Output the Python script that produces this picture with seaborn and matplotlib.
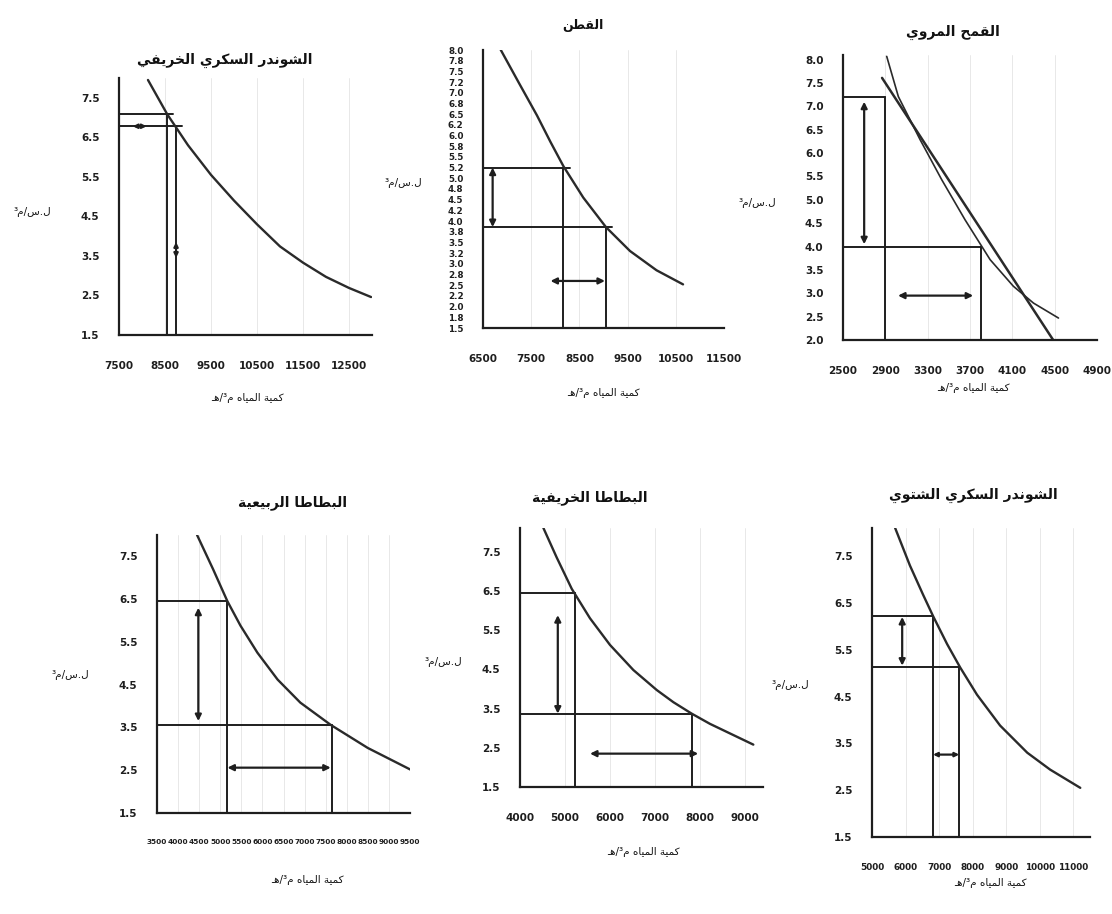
import matplotlib
matplotlib.use("Agg")
import matplotlib.pyplot as plt
import numpy as np
import pandas as pd
import seaborn as sns

# ---------------- data ----------------
# top-left: autumn sugar beet
tl_q = [8130, 8550, 9000, 9500, 10000, 10500, 11000, 11500, 12000, 12500, 12980]
tl_p = [7.95, 7.08, 6.30, 5.55, 4.90, 4.30, 3.74, 3.33, 2.97, 2.69, 2.46]
tl_guide_p = [7.08, 6.78]
tl_guide_q = [8550, 8740]
tl_xticks = [7500, 8500, 9500, 10500, 11500, 12500]

# top-middle: cotton
tm_q = [6860, 7250, 7620, 7900, 8170, 8580, 9050, 9550, 10100, 10650]
tm_p = [8.02, 7.22, 6.47, 5.85, 5.28, 4.55, 3.86, 3.30, 2.85, 2.52]
tm_guide_p = [5.25, 3.86]
tm_guide_q = [8170, 9050]
tm_xticks = [6500, 7500, 8500, 9500, 10500, 11500]

# top-right: irrigated wheat (curve + straight line)
tr_q = [2913, 3023, 3228, 3433, 3654, 3890, 4110, 4300, 4536]
tr_p = [8.07, 7.21, 6.29, 5.43, 4.57, 3.72, 3.15, 2.79, 2.47]
tr_lin_q = [2869, 4486]
tr_lin_p = [7.61, 2.00]
tr_guide_p = [7.20, 4.00]
tr_guide_q = [2900, 3800]
tr_xticks = [2500, 2900, 3300, 3700, 4100, 4500, 4900]

# bottom-left: spring potato
bl_q = [4450, 4830, 5170, 5480, 5880, 6360, 6900, 7620, 8500, 9520]
bl_p = [8.00, 7.20, 6.45, 5.88, 5.25, 4.62, 4.08, 3.56, 3.02, 2.51]
bl_guide_p = [6.45, 3.56]
bl_guide_q = [5170, 7650]
bl_xticks = [3500, 4000, 4500, 5000, 5500, 6000, 6500, 7000, 7500, 8000, 8500, 9000, 9500]

# bottom-middle: autumn potato
bm_q = [4520, 4815, 5150, 5555, 6000, 6520, 7040, 7410, 7815, 8220, 9185]
bm_p = [8.10, 7.35, 6.55, 5.80, 5.12, 4.48, 3.97, 3.66, 3.37, 3.11, 2.58]
bm_guide_p = [6.45, 3.37]
bm_guide_q = [5220, 7815]
bm_xticks = [4000, 5000, 6000, 7000, 8000, 9000]

# bottom-right: winter sugar beet
br_q = [5690, 6130, 6520, 6820, 7240, 7630, 8130, 8820, 9630, 10310, 11210]
br_p = [8.10, 7.30, 6.68, 6.22, 5.62, 5.12, 4.54, 3.88, 3.30, 2.94, 2.55]
br_guide_p = [6.22, 5.14]
br_guide_q = [6820, 7600]
br_xticks = [5000, 6000, 7000, 8000, 9000, 10000, 11000]

titles = ["الشوندر السكري الخريفي", "القطن", "القمح المروي",
          "البطاطا الربيعية", "البطاطا الخريفية", "الشوندر السكري الشتوي"]
xlabel_txt = "كمية المياه م³/هـ"
ylabel_txt = "ل.س/م³"

# ---------------- minimal Arabic shaping ----------------
DUAL = {'ب': 0xFE8F, 'ت': 0xFE95, 'ث': 0xFE99, 'ج': 0xFE9D, 'ح': 0xFEA1, 'خ': 0xFEA5,
        'س': 0xFEB1, 'ش': 0xFEB5, 'ص': 0xFEB9, 'ض': 0xFEBD, 'ط': 0xFEC1, 'ظ': 0xFEC5,
        'ع': 0xFEC9, 'غ': 0xFECD, 'ف': 0xFED1, 'ق': 0xFED5, 'ك': 0xFED9, 'ل': 0xFEDD,
        'م': 0xFEE1, 'ن': 0xFEE5, 'ه': 0xFEE9, 'ي': 0xFEF1, 'ئ': 0xFE89}
RIGHT = {'ا': 0xFE8D, 'أ': 0xFE83, 'إ': 0xFE87, 'آ': 0xFE81, 'ة': 0xFE93, 'د': 0xFEA9,
         'ذ': 0xFEAB, 'ر': 0xFEAD, 'ز': 0xFEAF, 'و': 0xFEED, 'ؤ': 0xFE85, 'ى': 0xFEEF}
LAM_ALEF = {'ا': 0xFEFB, 'أ': 0xFEF7, 'إ': 0xFEF9, 'آ': 0xFEF5}
TATWEEL = 'ـ'


def shape_ar(s):
    out = []
    n = len(s)
    i = 0
    while i < n:
        c = s[i]
        prev = s[i - 1] if i > 0 else ''
        cp = (prev in DUAL) or prev == TATWEEL
        if c == 'ل' and i + 1 < n and s[i + 1] in LAM_ALEF:
            base = LAM_ALEF[s[i + 1]]
            out.append(chr(base + 1 if cp else base))
            i += 2
            continue
        if c in DUAL:
            nxt = s[i + 1] if i + 1 < n else ''
            cn = nxt in DUAL or nxt in RIGHT or nxt == TATWEEL
            base = DUAL[c]
            if cp and cn:
                out.append(chr(base + 3))
            elif cp:
                out.append(chr(base + 1))
            elif cn:
                out.append(chr(base + 2))
            else:
                out.append(chr(base))
        elif c in RIGHT:
            base = RIGHT[c]
            out.append(chr(base + 1 if cp else base))
        else:
            out.append(c)
        i += 1
    return ''.join(reversed(out))


# ---------------- figure ----------------
sns.set_theme(style="white")
plt.rcParams['font.family'] = ['DejaVu Sans']

W, H = 1112, 914
fig = plt.figure(figsize=(W / 100, H / 100), dpi=100)
LC = '#1e1e1e'


def px(x, y):
    return x / W, 1 - y / H


def add_ax(left, right, top, bottom):
    return fig.add_axes([left / W, 1 - bottom / H, (right - left) / W, (bottom - top) / H])


def curve(ax, q, p, lw=1.7):
    df = pd.DataFrame({'q': q, 'p': p})
    sns.lineplot(data=df, x='q', y='p', ax=ax, color='#2a2a2a', lw=lw,
                 sort=False, estimator=None, legend=False)


def style_ax(ax, xlim, ylim, xticks, yticks, ylabsize=7.5, xlabsize=7.5):
    ax.set_xlim(*xlim)
    ax.set_ylim(*ylim)
    ax.set_xticks(xticks)
    ax.set_xticklabels([str(v) for v in xticks])
    ax.set_yticks(yticks)
    ax.set_yticklabels(['%.1f' % v for v in yticks])
    for s in ['top', 'right']:
        ax.spines[s].set_visible(False)
    for s in ['left', 'bottom']:
        ax.spines[s].set_color(LC)
        ax.spines[s].set_linewidth(1.6)
    ax.tick_params(axis='x', direction='out', length=3, width=0.8, colors=LC,
                   labelsize=xlabsize, pad=16)
    ax.tick_params(axis='y', direction='out', length=3, width=0.8, colors=LC,
                   labelsize=ylabsize, pad=11)
    for lab in ax.get_xticklabels() + ax.get_yticklabels():
        lab.set_fontweight('bold')
    ax.grid(axis='x', color='#e4e4e4', lw=0.6)
    ax.set_xlabel('')
    ax.set_ylabel('')


def guides(ax, gq, gp, xlim, ylim, over=0):
    for q, p in zip(gq, gp):
        ax.plot([xlim[0], q + over], [p, p], color=LC, lw=1.4)
        ax.plot([q, q], [ylim[0], p], color=LC, lw=1.4)


def arrow(ax, x1, y1, x2, y2, ms=9):
    ax.annotate('', xy=(x2, y2), xytext=(x1, y1),
                arrowprops=dict(arrowstyle='<|-|>', color=LC, lw=1.6,
                                mutation_scale=ms, shrinkA=0, shrinkB=0))


def texts(title, tpos, xpos, ypos, tsize=10):
    fig.text(*px(*tpos), shape_ar(title), ha='center', va='center',
             fontsize=tsize, fontweight='bold', color='#111')
    fig.text(*px(*xpos), shape_ar(xlabel_txt), ha='center', va='center',
             fontsize=7.5, color='#111')
    fig.text(*px(*ypos), shape_ar(ylabel_txt), ha='center', va='center',
             fontsize=7.5, color='#111')


def panel(rect, xlim, ylim, xticks, yticks, q, p, gq, gp, over=0,
          ylabsize=7.5, xlabsize=7.5, lw=1.7):
    ax = add_ax(*rect)
    guides(ax, gq, gp, xlim, ylim, over)
    curve(ax, q, p, lw=lw)
    style_ax(ax, xlim, ylim, xticks, yticks, ylabsize, xlabsize)
    return ax


yt_a = [1.5, 2.5, 3.5, 4.5, 5.5, 6.5, 7.5]

# top-left
ax = panel((119, 372, 78, 335), (7500, 13000), (1.5, 8.0), tl_xticks, yt_a,
           tl_q, tl_p, tl_guide_q, tl_guide_p, over=120)
arrow(ax, 7800, 6.78, 8100, 6.78, ms=6)
arrow(ax, 8740, 3.85, 8740, 3.45, ms=6)
texts(titles[0], (225, 60), (247, 398), (32, 212))

# top-middle
ax = panel((483, 724, 50, 328), (6500, 11500), (1.5, 8.0), tm_xticks,
           [1.5 + 0.25 * k for k in range(27)], tm_q, tm_p, tm_guide_q, tm_guide_p,
           over=130, ylabsize=6.3)
arrow(ax, 6700, 5.25, 6700, 3.86)
arrow(ax, 7900, 2.6, 9030, 2.6)
texts(titles[1], (583, 25), (603, 393), (403, 183), tsize=9)

# top-right
ax = panel((843, 1097, 55, 340), (2500, 4900), (2.0, 8.1), tr_xticks,
           [2.0 + 0.5 * k for k in range(13)], tr_q, tr_p, tr_guide_q, tr_guide_p, lw=1.2)
curve(ax, tr_lin_q, tr_lin_p, lw=1.8)
ax.set_xlabel('')
ax.set_ylabel('')
arrow(ax, 2700, 7.1, 2700, 4.05)
arrow(ax, 3020, 2.95, 3730, 2.95)
texts(titles[2], (953, 32), (973, 388), (757, 203))

# bottom-left
ax = panel((157, 410, 535, 813), (3500, 9500), (1.5, 8.0), bl_xticks, yt_a,
           bl_q, bl_p, bl_guide_q, bl_guide_p, xlabsize=5.3)
arrow(ax, 4480, 6.3, 4480, 3.65)
arrow(ax, 5170, 2.56, 7620, 2.56)
texts(titles[3], (293, 503), (307, 880), (70, 675))

# bottom-middle
ax = panel((520, 763, 528, 787), (4000, 9400), (1.5, 8.1), bm_xticks, yt_a,
           bm_q, bm_p, bm_guide_q, bm_guide_p)
arrow(ax, 4840, 3.37, 4840, 5.88)
arrow(ax, 5556, 2.35, 7960, 2.35)
texts(titles[4], (590, 498), (643, 852), (443, 662))

# bottom-right
ax = panel((872, 1090, 528, 837), (5000, 11500), (1.5, 8.1), br_xticks, yt_a,
           br_q, br_p, br_guide_q, br_guide_p, xlabsize=6.4)
arrow(ax, 5900, 6.2, 5900, 5.16)
arrow(ax, 6820, 3.26, 7600, 3.26, ms=6)
texts(titles[5], (973, 495), (990, 883), (790, 685))

fig.savefig("out.png", dpi=100)
